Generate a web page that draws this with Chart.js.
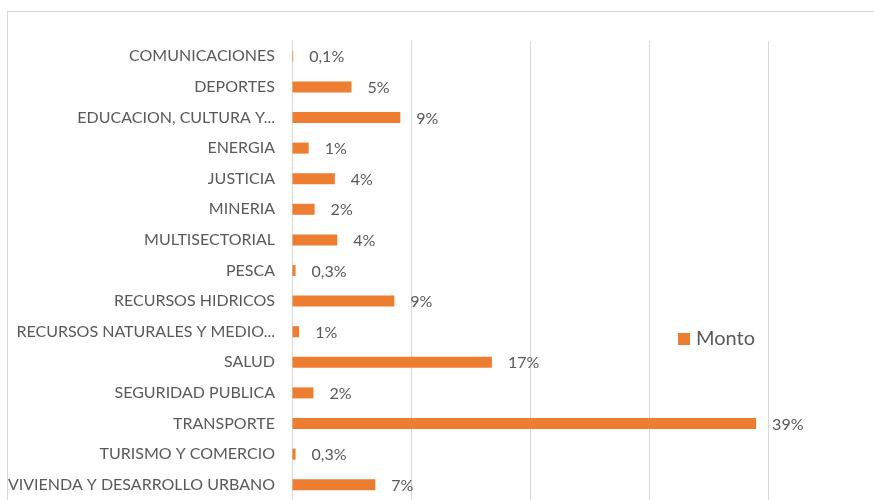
<!DOCTYPE html>
<html>
<head>
<meta charset="utf-8">
<script src="https://cdn.jsdelivr.net/npm/chart.js@4"></script>
<style>
  body { margin: 0; background: #fff; overflow: hidden; }
  #frame { position: absolute; left: 7px; top: 11px; width: 900px; height: 600px; border: 1px solid #d9d9d9; }
  #wrap { position: absolute; left: 0; top: 0; width: 874px; height: 500px; }
</style>
</head>
<body>
<div id="frame"></div>
<div id="wrap"><canvas id="chart" width="874" height="500"></canvas></div>
<script>
const sectores = [
  "COMUNICACIONES", "DEPORTES", "EDUCACION, CULTURA Y...", "ENERGIA", "JUSTICIA",
  "MINERIA", "MULTISECTORIAL", "PESCA", "RECURSOS HIDRICOS", "RECURSOS NATURALES Y MEDIO...",
  "SALUD", "SEGURIDAD PUBLICA", "TRANSPORTE", "TURISMO Y COMERCIO", "VIVIENDA Y DESARROLLO URBANO"
];
const monto = [0.1, 5.0, 9.1, 1.4, 3.6, 1.9, 3.8, 0.3, 8.6, 0.6, 16.8, 1.8, 39.0, 0.3, 7.0];
const montoLabels = ["0,1%", "5%", "9%", "1%", "4%", "2%", "4%", "0,3%", "9%", "1%", "17%", "2%", "39%", "0,3%", "7%"];

const FONT = "Lato, Carlito, Calibri, sans-serif";
const TEXT = "#595959";
const ORANGE = "#ed7d31";

const labelsPlugin = {
  id: "barLabels",
  afterDatasetsDraw(chart) {
    const ctx = chart.ctx;
    const meta = chart.getDatasetMeta(0);
    ctx.save();
    ctx.font = "16px " + FONT;
    ctx.fillStyle = TEXT;
    ctx.textBaseline = "middle";
    ctx.textAlign = "left";
    meta.data.forEach((bar, i) => {
      ctx.fillText(montoLabels[i], bar.x + 16, bar.y + 1);
    });
    ctx.restore();
  }
};

const legendPlugin = {
  id: "sideLegend",
  afterDraw(chart) {
    const ctx = chart.ctx;
    ctx.save();
    ctx.fillStyle = ORANGE;
    ctx.fillRect(678, 333, 12, 12);
    ctx.font = "20px " + FONT;
    ctx.fillStyle = TEXT;
    ctx.textBaseline = "middle";
    ctx.fillText(chart.data.datasets[0].label, 696, 339);
    ctx.restore();
  }
};

new Chart(document.getElementById("chart"), {
  type: "bar",
  data: {
    labels: sectores,
    datasets: [
      {
        label: "Monto",
        data: monto,
        backgroundColor: ORANGE,
        barPercentage: 0.36,
        categoryPercentage: 1,
      },
    ],
  },
  options: {
    indexAxis: "y",
    responsive: false,
    animation: false,
    layout: {
      padding: { top: 41, right: 106, bottom: 0, left: 0 },
    },
    scales: {
      x: {
        min: 0,
        max: 40,
        afterFit: (scale) => { scale.height = 0; },
        ticks: { display: false, stepSize: 10 },
        grid: { color: "#d9d9d9", drawTicks: false },
        border: { display: false },
      },
      y: {
        afterFit: (scale) => {
          scale.width = 292;
          scale.paddingTop = 0;
          scale.paddingBottom = 0;
        },
        ticks: { color: TEXT, font: { family: FONT, size: 16 }, padding: 17, autoSkip: false },
        grid: { display: false, drawTicks: false },
        border: { color: "#d9d9d9" },
      },
    },
    plugins: {
      legend: { display: false },
      tooltip: { enabled: false },
    },
  },
  plugins: [labelsPlugin, legendPlugin],
});
</script>
</body>
</html>
